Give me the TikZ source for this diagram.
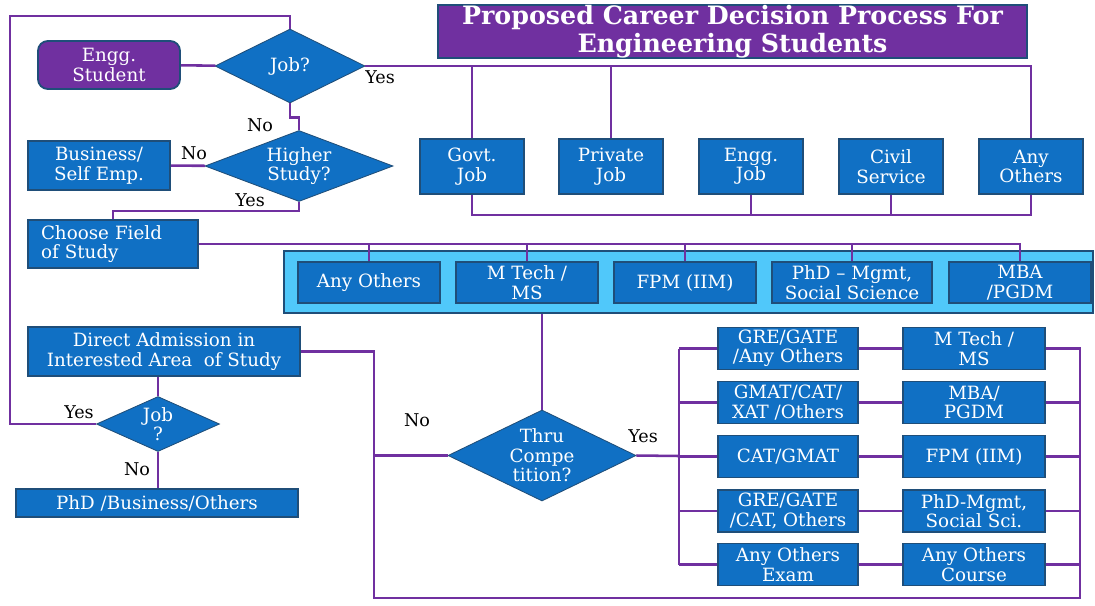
\documentclass[tikz,border=0pt]{standalone}
\usepackage{fontspec}
\setmainfont{DejaVu Serif}
\usetikzlibrary{shapes.geometric, positioning}
\definecolor{boxblue}{HTML}{1070C4}
\definecolor{edgeblue}{HTML}{1F4E79}
\definecolor{linkpurple}{HTML}{7030A0}
\definecolor{titlepurple}{HTML}{7030A0}
\definecolor{skyblue}{HTML}{50C8FA}

\begin{document}
\begin{tikzpicture}[
    x=0.025cm, y=-0.025cm,
    every node/.style={inner sep=0pt, text=white, align=center, font=\fontsize{13}{13.8}\selectfont},
    box/.style 2 args={draw=edgeblue, line width=1.3pt, fill=boxblue, minimum width=#1*0.025cm, minimum height=#2*0.025cm},
    ask/.style 2 args={diamond, aspect=2, draw=edgeblue, line width=0.6pt, fill=boxblue, minimum width=#1*0.025cm, minimum height=#2*0.025cm},
    lbl/.style={text=black, font=\fontsize{12.5}{14}\selectfont},
    link/.style={draw=linkpurple, line width=1.8pt}
]
    \useasboundingbox (0,0) rectangle (1095,605);
    % title and start
    \node[box={589}{47}, fill=titlepurple, font=\bfseries\fontsize{18}{19.5}\selectfont] (title) at (732.5,31.5) {Proposed Career Decision Process For\\Engineering Students};
    \node[box={142}{48}, fill=titlepurple, rounded corners=7pt] (student) at (109,65) {Engg.\\Student};
    \node[ask={150}{74}] (job) at (290,66) {Job?};
    \node[ask={188}{71}] (higher) at (299,166) {Higher\\Study?};
    \node[box={142}{49}] (business) at (99,165.5) {Business/\\Self Emp.};
    % jobs
    \node[box={104}{55}] (govtjob) at (472,166.5) {Govt.\\Job};
    \node[box={104}{55}] (privjob) at (611,166.5) {Private\\Job};
    \node[box={104}{55}] (enggjob) at (751,166.5) {Engg.\\Job};
    \node[box={104}{55}] (civil) at (891,166.5) {Civil\\Service};
    \node[box={104}{55}] (anyjob) at (1031,166.5) {Any\\Others};
    % fields of study
    \node[box={170}{48}, text width=144*0.025cm, align=left] (choose) at (113,244) {Choose Field\\of Study};
    \node[box={809}{62}, fill=skyblue] (field) at (688.5,282) {};
    \node[box={142}{41}] (anyfield) at (369,282.5) {Any Others};
    \node[box={142}{41}] (mtech) at (527,282.5) {M Tech /\\MS};
    \node[box={142}{41}] (fpm) at (685,282.5) {FPM (IIM)};
    \node[box={160}{41}] (phd) at (852,282.5) {PhD -- Mgmt,\\Social Science};
    \node[box={142}{41}] (mba) at (1020,282.5) {MBA\\/PGDM};
    % direct admission
    \node[box={272}{49}] (direct) at (164,351.5) {Direct Admission in\\Interested Area\ \ of Study};
    \node[ask={123}{55}] (jobq) at (158,424) {Job\\?};
    \node[box={282}{28}] (others) at (157,503) {PhD /Business/Others};
    \node[ask={188}{91}] (thru) at (542,455.5) {Thru\\Compe\\tition?};
    % exams and courses
    \node[box={140}{42}] (gre) at (788,348.5) {GRE/GATE\\/Any Others};
    \node[box={140}{42}] (gmat) at (788,402.5) {GMAT/CAT/\\XAT /Others};
    \node[box={140}{42}] (cat) at (788,456.5) {CAT/GMAT};
    \node[box={140}{42}] (gregate) at (788,511) {GRE/GATE\\/CAT, Others};
    \node[box={140}{42}] (anyexam) at (788,564.5) {Any Others\\Exam};
    \node[box={142}{42}] (mtechc) at (974,348.5) {M Tech /\\MS};
    \node[box={142}{42}] (mbac) at (974,402.5) {MBA/\\PGDM};
    \node[box={142}{42}] (fpmc) at (974,456.5) {FPM (IIM)};
    \node[box={142}{42}] (phdc) at (974,511) {PhD-Mgmt,\\Social Sci.};
    \node[box={142}{42}] (anyc) at (974,564.5) {Any Others\\Course};
    % bends of the connectors
    \coordinate (loop) at (10,16);
    \coordinate (nobus) at (374,598);
    \coordinate (endbus) at (1080,598);
    \coordinate (yesbus) at (679,456);
    % connectors
    \draw[link] (student) -- (job);
    \draw[link] (jobq.west) -| (loop) -| (job.north);
    \draw[link] (job.east) -| (anyjob.north);
    \draw[link] (govtjob.north) -- (govtjob.north |- job.east);
    \draw[link] (privjob.north) -- (privjob.north |- job.east);
    \draw[link] (govtjob.south) -- ++(0,20) -| (anyjob.south);
    \draw[link] (enggjob.south) -- ++(0,20);
    \draw[link] (civil.south) -- ++(0,20);
    \draw[link] (job.south) -- ++(0,14) -| (higher.north);
    \draw[link] (higher) -- (business);
    \draw[link] (higher.south) -- ++(0,9) -| (choose.north);
    \draw[link] (choose.east) -| (mba.north);
    \foreach \n in {anyfield, mtech, fpm, phd}
        \draw[link] (\n.north) -- (\n.north |- choose.east);
    \draw[link] (field.south -| thru.north) -- (thru.north);
    \draw[link] (direct.east) -| (nobus) -- (endbus) |- (mtechc.east);
    \draw[link] (thru.west) -- (thru.west -| nobus);
    \draw[link] (jobq.north |- direct.south) -- (jobq.north);
    \draw[link] (jobq.south) -- (jobq.south |- others.north);
    \draw[link] (thru.east) -- (yesbus);
    \draw[link] (gre.west -| yesbus) -- (anyexam.west -| yesbus);
    \foreach \e/\c in {gre/mtechc, gmat/mbac, cat/fpmc, gregate/phdc, anyexam/anyc} {
        \draw[link] (\e.west -| yesbus) -- (\e.west);
        \draw[link] (\e) -- (\c);
        \draw[link] (\c.east) -- (\c.east -| endbus);
    }
    % yes / no
    \node[lbl] (yes1) at (380,77) {Yes};
    \node[lbl] (no1) at (260,125) {No};
    \node[lbl] (no2) at (194,153) {No};
    \node[lbl] (yes2) at (250,200) {Yes};
    \node[lbl] (yes3) at (79,412) {Yes};
    \node[lbl] (no3) at (137,469) {No};
    \node[lbl] (no4) at (417,420) {No};
    \node[lbl] (yes4) at (643,436) {Yes};
\end{tikzpicture}
\end{document}
